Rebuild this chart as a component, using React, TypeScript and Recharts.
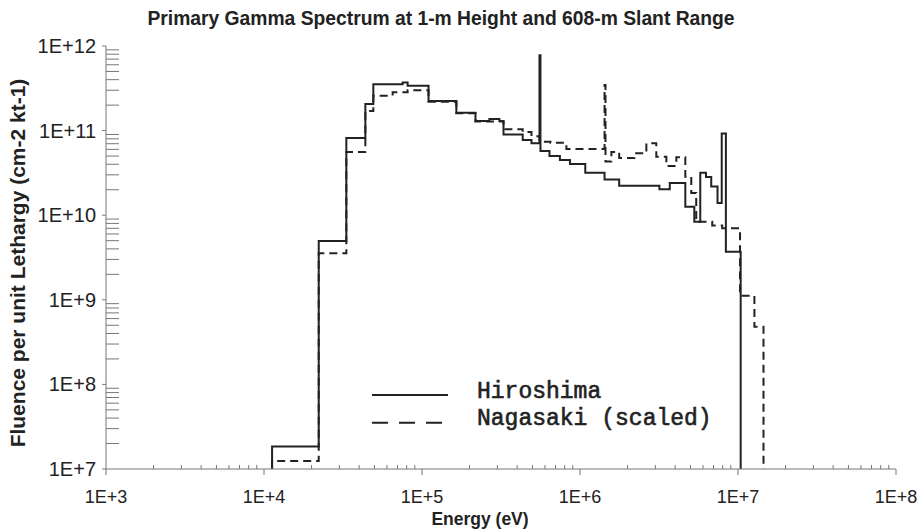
import React from "react";
import { LineChart, Line, XAxis, YAxis } from "recharts";

// bin edges (eV) and fluence per bin (cm-2 kt-1)
const hiroshimaEdges = [
  1.125e4, 2.22e4, 3.32e4, 4.38e4, 4.92e4, 7.54e4, 8.11e4, 1.1e5, 1.65e5, 2.18e5,
  2.67e5, 3.09e5, 3.28e5, 4.34e5, 4.93e5, 5.54e5, 5.62e5, 6.41e5, 7.46e5, 8.64e5,
  1.08e6, 1.43e6, 1.77e6, 3.18e6, 3.7e6, 4.64e6, 5.29e6, 5.77e6, 6.27e6, 6.77e6,
  7.42e6, 7.89e6, 8.38e6, 1.04e7,
];
const hiroshimaFluence = [
  1.84e7, 4.95e9, 8.2e10, 2.06e11, 3.52e11, 3.7e11, 3.4e11, 2.24e11, 1.63e11, 1.3e11,
  1.37e11, 1.3e11, 9.0e10, 7.74e10, 7.08e10, 7.8e11, 5.74e10, 5.01e10, 4.49e10, 4.03e10,
  3.18e10, 2.65e10, 2.23e10, 2.02e10, 2.4e10, 1.26e10, 8.37e9, 3.18e10, 2.83e10, 2.18e10,
  1.39e10, 9.25e10, 3.71e9,
];

const nagasakiEdges = [
  1.125e4, 2.22e4, 3.32e4, 4.38e4, 4.92e4, 6.52e4, 8.11e4, 1.1e5, 1.65e5, 2.18e5,
  3.28e5, 4.34e5, 4.93e5, 5.54e5, 6.5e5, 8.2e5, 1.43e6, 1.45e6, 1.58e6, 1.77e6,
  2.21e6, 2.63e6, 3.04e6, 3.52e6, 4.07e6, 4.64e6, 5.06e6, 5.44e6, 6.87e6, 7.94e6,
  1.03e7, 1.27e7, 1.45e7,
];
const nagasakiFluence = [
  1.24e7, 3.55e9, 5.6e10, 1.7e11, 2.59e11, 2.84e11, 3.0e11, 2.2e11, 1.6e11, 1.28e11,
  1.04e11, 9.6e10, 8.6e10, 7.4e10, 7.2e10, 6.05e10, 3.46e11, 4.3e10, 5.6e10, 4.74e10,
  5.4e10, 7.08e10, 4.91e10, 3.82e10, 4.83e10, 2.85e10, 1.83e10, 8.37e9, 7.55e9, 7.0e9,
  1.12e9, 4.8e8,
];

const xDecades = [3, 4, 5, 6, 7, 8];
const yDecades = [7, 8, 9, 10, 11, 12];
const minorSteps = [2, 3, 4, 5, 6, 7, 8, 9];

const X_MIN = 1e3;
const X_MAX = 1e8;
const Y_MIN = 1e7;
const Y_MAX = 1e12;

const AXIS = "#777";
const INK = "#222";
const SANS = "'Liberation Sans', Arial, sans-serif";
const MONO = "'Liberation Mono', 'Courier New', monospace";

// histogram -> step polyline that rises from and falls back to the floor
function toSteps(edges: number[], values: number[]) {
  const rows = [{ e: edges[0], f: Y_MIN }];
  values.forEach((v, i) => rows.push({ e: edges[i], f: v }));
  rows.push({ e: edges[edges.length - 1], f: values[values.length - 1] });
  rows.push({ e: edges[edges.length - 1], f: Y_MIN });
  return rows;
}

function logTicks(decades: number[]) {
  const out: number[] = [];
  decades.forEach((d, i) => {
    out.push(Math.pow(10, d));
    if (i < decades.length - 1) minorSteps.forEach((m) => out.push(m * Math.pow(10, d)));
  });
  return out;
}

const isDecade = (v: number) => Math.abs(Math.log10(v) - Math.round(Math.log10(v))) < 1e-6;
const expLabel = (v: number) => `1E+${Math.round(Math.log10(v))}`;

const hiroshima = toSteps(hiroshimaEdges, hiroshimaFluence);
const nagasaki = toSteps(nagasakiEdges, nagasakiFluence);
const xTicks = logTicks(xDecades);
const yTicks = logTicks(yDecades);

const BottomTick = ({ x, y, payload }: any) => {
  const major = isDecade(payload.value);
  return (
    <g>
      <line x1={x} x2={x} y1={y} y2={major ? y + 6 : y - 4} stroke={AXIS} />
      {major && (
        <text x={x} y={y + 34} textAnchor="middle" fontSize={18} fill="#222" fontFamily={SANS}>
          {expLabel(payload.value)}
        </text>
      )}
    </g>
  );
};

const TopTick = ({ x, y, payload }: any) =>
  isDecade(payload.value) ? <g /> : <line x1={x} x2={x} y1={y} y2={y + 4} stroke={AXIS} />;

const LeftTick = ({ x, y, payload }: any) => {
  const major = isDecade(payload.value);
  return (
    <g>
      <line x1={major ? x - 4 : x} x2={major ? x : x + 13} y1={y} y2={y} stroke={AXIS} />
      {major && (
        <text x={x - 10} y={y + 7} textAnchor="end" fontSize={20} fill="#222" fontFamily={SANS}>
          {expLabel(payload.value)}
        </text>
      )}
    </g>
  );
};

const RightTick = ({ x, y }: any) => <line x1={x} x2={x - 3} y1={y} y2={y} stroke={AXIS} />;

export default function App() {
  return (
    <div style={{ position: "relative", width: 920, height: 529, overflow: "hidden", background: "#fff" }}>
      <style>{"body{margin:0}"}</style>
      <LineChart width={920} height={529} margin={{ top: 46, right: 24, bottom: 0, left: 0 }}>
        <XAxis
          xAxisId="bottom"
          dataKey="e"
          type="number"
          scale="log"
          domain={[X_MIN, X_MAX]}
          allowDataOverflow
          ticks={xTicks}
          interval={0}
          tick={<BottomTick />}
          tickLine={false}
          tickSize={0}
          tickMargin={0}
          height={60}
          axisLine={{ stroke: AXIS }}
        />
        <XAxis
          xAxisId="top"
          orientation="top"
          dataKey="e"
          type="number"
          scale="log"
          domain={[X_MIN, X_MAX]}
          allowDataOverflow
          ticks={xTicks}
          interval={0}
          tick={<TopTick />}
          tickLine={false}
          tickSize={0}
          tickMargin={0}
          height={0}
          axisLine={{ stroke: AXIS }}
        />
        <YAxis
          yAxisId="left"
          type="number"
          scale="log"
          domain={[Y_MIN, Y_MAX]}
          allowDataOverflow
          ticks={yTicks}
          interval={0}
          tick={<LeftTick />}
          tickLine={false}
          tickSize={0}
          tickMargin={0}
          width={106}
          axisLine={{ stroke: AXIS }}
        />
        <YAxis
          yAxisId="right"
          orientation="right"
          type="number"
          scale="log"
          domain={[Y_MIN, Y_MAX]}
          allowDataOverflow
          ticks={yTicks}
          interval={0}
          tick={<RightTick />}
          tickLine={false}
          tickSize={0}
          tickMargin={0}
          width={0}
          axisLine={{ stroke: AXIS }}
        />
        <Line
          data={nagasaki}
          xAxisId="bottom"
          yAxisId="left"
          dataKey="f"
          type="stepAfter"
          stroke={INK}
          strokeWidth={2}
          strokeDasharray="8 5"
          dot={false}
          activeDot={false}
          isAnimationActive={false}
        />
        <Line
          data={hiroshima}
          xAxisId="bottom"
          yAxisId="left"
          dataKey="f"
          type="stepAfter"
          stroke={INK}
          strokeWidth={2}
          dot={false}
          activeDot={false}
          isAnimationActive={false}
        />
      </LineChart>

      <div
        style={{
          position: "absolute",
          left: 0,
          top: 8,
          width: 882,
          textAlign: "center",
          fontFamily: SANS,
          fontWeight: "bold",
          fontSize: 19.3,
          lineHeight: "22px",
          color: "#222",
        }}
      >
        Primary Gamma Spectrum at 1-m Height and 608-m Slant Range
      </div>
      <div
        style={{
          position: "absolute",
          left: 18,
          top: 263,
          transform: "translate(-50%, -50%) rotate(-90deg)",
          whiteSpace: "nowrap",
          fontFamily: SANS,
          fontWeight: "bold",
          fontSize: 21,
          lineHeight: "24px",
          color: "#222",
        }}
      >
        Fluence per unit Lethargy (cm-2 kt-1)
      </div>
      <div
        style={{
          position: "absolute",
          left: 480,
          top: 509,
          transform: "translateX(-50%)",
          whiteSpace: "nowrap",
          fontFamily: SANS,
          fontWeight: "bold",
          fontSize: 17.5,
          lineHeight: "20px",
          color: "#222",
        }}
      >
        Energy (eV)
      </div>

      {/* legend */}
      <svg style={{ position: "absolute", left: 368, top: 378 }} width={380} height={66}>
        <line x1={4} x2={80} y1={17} y2={17} stroke={INK} strokeWidth={2} />
        <line x1={4} x2={76} y1={44.7} y2={44.7} stroke={INK} strokeWidth={2} strokeDasharray="16 11" />
        <text x={109} y={20} fontFamily={MONO} fontSize={23} fill="#222" stroke="#222" strokeWidth={0.6}>
          Hiroshima
        </text>
        <text x={109} y={47} fontFamily={MONO} fontSize={23} fill="#222" stroke="#222" strokeWidth={0.6}>
          Nagasaki (scaled)
        </text>
      </svg>
    </div>
  );
}
